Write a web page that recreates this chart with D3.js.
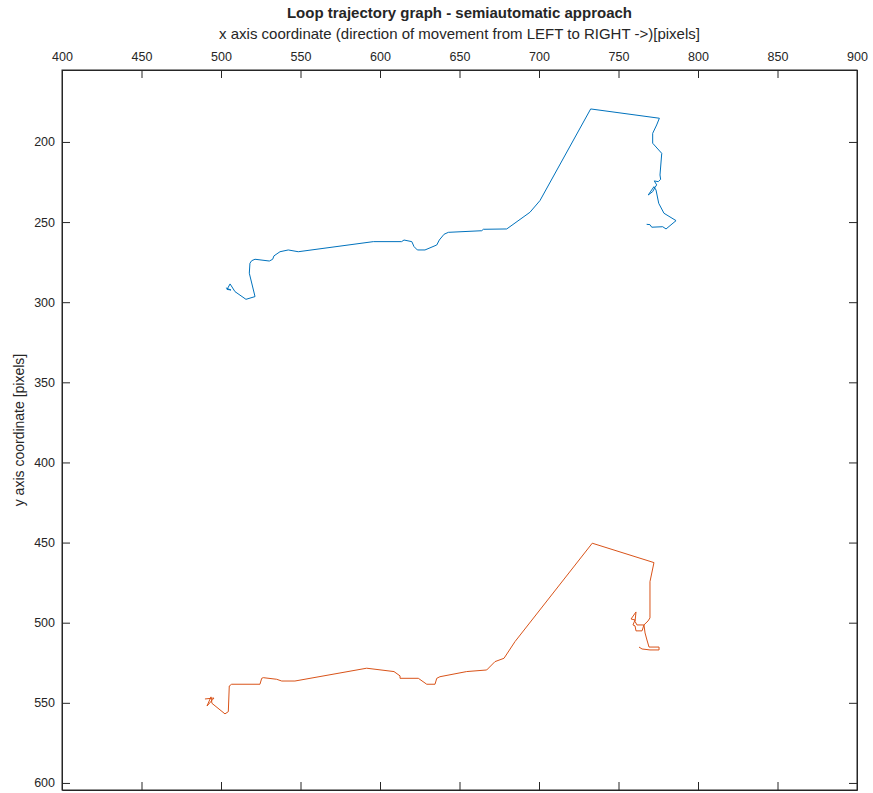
<!DOCTYPE html>
<html><head><meta charset="utf-8">
<script src="https://cdn.jsdelivr.net/npm/d3@7"></script>
<style>body{margin:0;background:#fff;} text{font-family:"Liberation Sans",Arial,sans-serif;fill:#262626;}</style>
</head><body><svg id="c" width="873" height="793"></svg>
<script>
const xTicks = [400,450,500,550,600,650,700,750,800,850,900];
const yTicks = [200,250,300,350,400,450,500,550,600];
const titleText = "Loop trajectory graph - semiautomatic approach";
const xLabel = "x axis coordinate (direction of movement from LEFT to RIGHT ->)[pixels]";
const yLabel = "y axis coordinate [pixels]";
const seriesNames = ["Loop A (top)","Loop B (bottom)"];
const seriesColors = ["#0072BD","#D95319"];
const blueX = [503.1,506.3,503.8,505.7,508.8,515.7,521.4,517.8,518.2,519.3,521.4,530.4,532.5,533.3,537.1,542.3,548.6,595.8,613.6,615.1,620.0,621.4,623.5,628.3,635.7,637.3,640.3,643.0,664.0,665.0,679.7,694.3,700.6,732.5,775.7,774.0,771.5,771.5,777.2,776.1,776.5,775.0,772.5,774.0,773.0,771.5,768.7,772.3,773.6,775.3,778.6,786.2,779.9,777.8,770.9,769.8,767.7];
const blueY = [291.1,292.4,292.0,288.6,293.4,298.2,296.5,281.9,275.7,274.1,273.2,274.3,273.2,271.1,268.5,267.4,268.5,262.2,262.2,261.2,262.2,265.3,267.4,267.4,264.3,261.2,257.6,256.4,255.4,254.5,254.3,243.9,236.6,179.4,185.2,189.4,194.6,200.8,207.1,220.6,223.3,224.8,224.3,226.8,228.3,231.0,233.1,227.9,230.0,238.3,244.5,249.1,254.3,252.9,253.2,251.6,251.4];
const orangeX = [489.9,495.6,491.2,493.7,494.3,502.5,504.6,505.2,506.7,524.5,525.6,526.6,535.0,538.2,546.5,591.6,608.8,612.6,612.6,624.1,629.4,634.6,635.7,637.7,654.5,667.1,672.3,678.0,684.9,733.5,772.3,769.8,769.8,768.6,766.0,764.8,761.0,760.4,759.1,760.4,757.9,761.0,760.4,761.6,766.0,766.7,767.9,769.2,775.5,775.5,769.8,764.8,762.9];
const orangeY = [547.6,547.0,552.0,546.3,550.3,556.9,555.5,539.5,538.4,538.4,534.7,534.3,535.3,536.4,536.4,528.4,530.5,533.2,534.7,534.7,538.4,538.4,534.7,533.7,530.5,529.5,524.3,522.2,511.8,450.4,462.5,474.4,497.0,498.9,501.4,505.1,505.1,502.0,501.4,498.3,497.7,493.3,499.2,501.4,501.4,506.4,510.8,515.2,515.2,517.0,517.0,516.4,515.2];

const L=62,R=857,T=70,B=790;
const svg=d3.select("#c");
const x=d3.scaleLinear().domain([400,900]).range([L,R]);
const y=d3.scaleLinear().domain([155.1,604.4]).range([T,B]);
const ax="#262626";

const series=[d3.zip(blueX,blueY),d3.zip(orangeX,orangeY)];
const line=d3.line().x(d=>x(d[0])).y(d=>y(d[1]));
const plot=svg.append("g");
series.forEach((s,i)=>{
  plot.append("path").datum(s).attr("d",line).attr("fill","none")
    .attr("stroke",seriesColors[i]).attr("stroke-width",1).attr("stroke-linejoin","round")
    .append("title").text(seriesNames[i]);
});

function styleAxis(g){g.select(".domain").attr("stroke",ax);g.selectAll(".tick line").attr("stroke",ax);g.selectAll(".tick text").attr("font-size","12.5px").attr("fill",ax).attr("font-family","Liberation Sans, Arial, sans-serif");}
const tl=8;
svg.append("g").attr("transform",`translate(0,${T})`).call(d3.axisTop(x).tickValues(xTicks).tickSizeInner(-tl).tickSizeOuter(0).tickPadding(9)).call(styleAxis);
svg.append("g").attr("transform",`translate(0,${B})`).call(d3.axisBottom(x).tickValues(xTicks).tickSizeInner(-tl).tickSizeOuter(0).tickFormat("")).call(styleAxis);
svg.append("g").attr("transform",`translate(${L},0)`).call(d3.axisLeft(y).tickValues(yTicks).tickSizeInner(-tl).tickSizeOuter(0).tickPadding(7)).call(styleAxis);
svg.append("g").attr("transform",`translate(${R},0)`).call(d3.axisRight(y).tickValues(yTicks).tickSizeInner(-tl).tickSizeOuter(0).tickFormat("")).call(styleAxis);
svg.append("rect").attr("x",L).attr("y",T).attr("width",R-L).attr("height",B-T).attr("fill","none").attr("stroke",ax).attr("stroke-width",1);

svg.append("text").attr("x",(L+R)/2).attr("y",18).attr("text-anchor","middle").attr("font-weight","bold").attr("font-size","15px").text(titleText);
svg.append("text").attr("x",(L+R)/2).attr("y",38.5).attr("text-anchor","middle").attr("font-size","15px").text(xLabel);
svg.append("text").attr("transform",`translate(24,${(T+B)/2}) rotate(-90)`).attr("text-anchor","middle").attr("font-size","14px").text(yLabel);
</script></body></html>
